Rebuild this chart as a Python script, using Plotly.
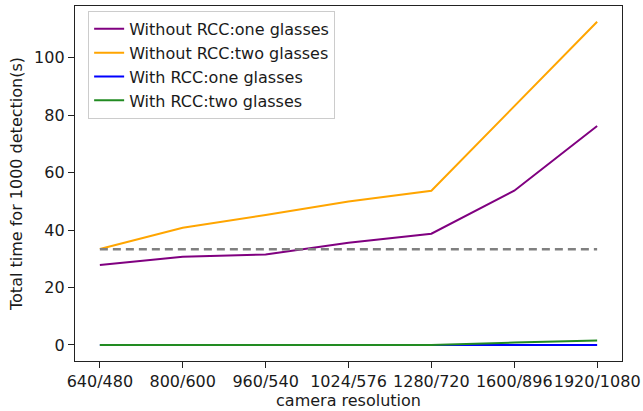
import plotly.graph_objects as go

resolutions = ["640/480", "800/600", "960/540", "1024/576", "1280/720", "1600/896", "1920/1080"]
without_rcc_one = [27.8, 30.7, 31.5, 35.6, 38.7, 53.7, 76.2]
without_rcc_two = [33.4, 40.8, 45.2, 49.9, 53.7, 83.1, 112.5]
with_rcc_one = [0.0, 0.0, 0.0, 0.0, 0.0, 0.0, 0.0]
with_rcc_two = [0.0, 0.0, 0.0, 0.0, 0.0, 0.8, 1.5]
reference_level = [33.3] * len(resolutions)

series = [
    ("Without RCC:one glasses", without_rcc_one, "#800080"),
    ("Without RCC:two glasses", without_rcc_two, "#FFA500"),
    ("With RCC:one glasses", with_rcc_one, "#0000FF"),
    ("With RCC:two glasses", with_rcc_two, "#228B22"),
]

fig = go.Figure()
for name, vals, color in series:
    fig.add_trace(go.Scatter(x=resolutions, y=vals, mode="lines", name=name,
                             line=dict(color=color, width=2)))
fig.add_trace(go.Scatter(x=resolutions, y=reference_level, mode="lines",
                         showlegend=False,
                         line=dict(color="#808080", width=2.5, dash="8px,5px")))

font = "DejaVu Sans"
fig.update_layout(
    width=643, height=411,
    margin=dict(l=75, r=21, t=6, b=50, autoexpand=False),
    paper_bgcolor="white", plot_bgcolor="white",
    font=dict(family=font, size=16, color="#1a1a1a"),
    showlegend=True,
    legend=dict(x=0.024, y=0.986, xanchor="left", yanchor="top",
                bgcolor="rgba(255,255,255,0.8)", bordercolor="#cccccc", borderwidth=1,
                font=dict(family=font, size=16, color="#1a1a1a"),
                itemwidth=30),
    xaxis=dict(
        type="category", range=[-0.3, 6.3], tickangle=0, automargin=False,
        showgrid=False, zeroline=False,
        showline=True, linecolor="#222222", linewidth=1.3, mirror=True,
        ticks="outside", ticklen=6, tickwidth=1.2, tickcolor="#222222",
        title=dict(text="camera resolution", font=dict(size=16), standoff=4),
    ),
    yaxis=dict(
        range=[-5.6, 118.0], tickvals=[0, 20, 40, 60, 80, 100], automargin=False,
        showgrid=False, zeroline=False,
        showline=True, linecolor="#222222", linewidth=1.3, mirror=True,
        ticks="outside", ticklen=6, tickwidth=1.2, tickcolor="#222222",
        title=dict(text="Total time for 1000 detection(s)", font=dict(size=16), standoff=7),
    ),
)

fig.write_html("out.html", config={"displayModeBar": False},
               post_script="document.body.style.margin='0';")
